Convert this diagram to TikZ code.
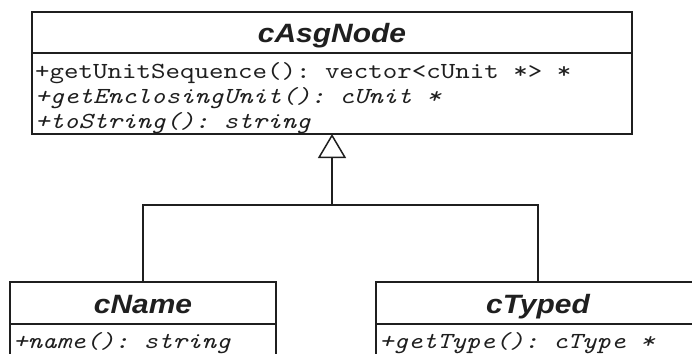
\documentclass[tikz,border=0pt]{standalone}
\usepackage{fontspec}
\usetikzlibrary{arrows.meta}
\newfontfamily\hfont[FakeStretch=1.13]{Liberation Sans}
\newfontfamily\mfont{lmmono10-regular}[Extension=.otf, ItalicFont=lmmono10-italic, FakeStretch=1.2]
\definecolor{ink}{gray}{0.12}
\begin{document}
\begin{tikzpicture}[x=1pt,y=-1pt,
  box/.style={draw=ink, line width=1.5pt, inner sep=0pt, outer sep=0pt, anchor=north west},
  hdr/.style={font=\hfont\bfseries\itshape\fontsize{26.5}{30}\selectfont, text=ink, anchor=base, inner sep=0pt},
  mem/.style={font=\mfont\frenchspacing\fontsize{23}{25}\selectfont, text=ink, anchor=base west, inner sep=0pt},
  memi/.style={mem, font=\mfont\frenchspacing\itshape\fontsize{23}{25}\selectfont},
  link/.style={draw=ink, line width=1.5pt}]
\useasboundingbox (0,0) rectangle (692,353);
\clip (0,0) rectangle (692,353);
% cAsgNode
\node[box, minimum width=600pt, minimum height=41pt] (asgH) at (32,12) {};
\node[box, minimum width=600pt, minimum height=81pt] (asgB) at (32,53) {};
\node[hdr] (asgT) at (332,42) {cAsgNode};
\node[mem]  (m1) at (35,78)  {+getUnitSequence(): vector<cUnit *> *};
\node[memi] (m2) at (35,103) {+getEnclosingUnit(): cUnit *};
\node[memi] (m3) at (35,128) {+toString(): string};
% cName
\node[box, minimum width=266pt, minimum height=42pt] (nH) at (10,282) {};
\node[box, minimum width=266pt, minimum height=60pt] (nB) at (10,324) {};
\node[hdr] (nT) at (143,313) {cName};
\node[memi] (n1) at (13,348) {+name(): string};
% cTyped
\node[box, minimum width=324pt, minimum height=42pt] (tH) at (376,282) {};
\node[box, minimum width=324pt, minimum height=60pt] (tB) at (376,324) {};
\node[hdr] (tT) at (538,313) {cTyped};
\node[memi] (t1) at (379,348) {+getType(): cType *};
% generalization
\coordinate (j) at (332,205);
\draw[link] (nH.north) |- (j) -| (tH.north);
\draw[link, -{Triangle[open, length=24pt, width=28pt]}] (j) -- (asgB.south);
\end{tikzpicture}
\end{document}
